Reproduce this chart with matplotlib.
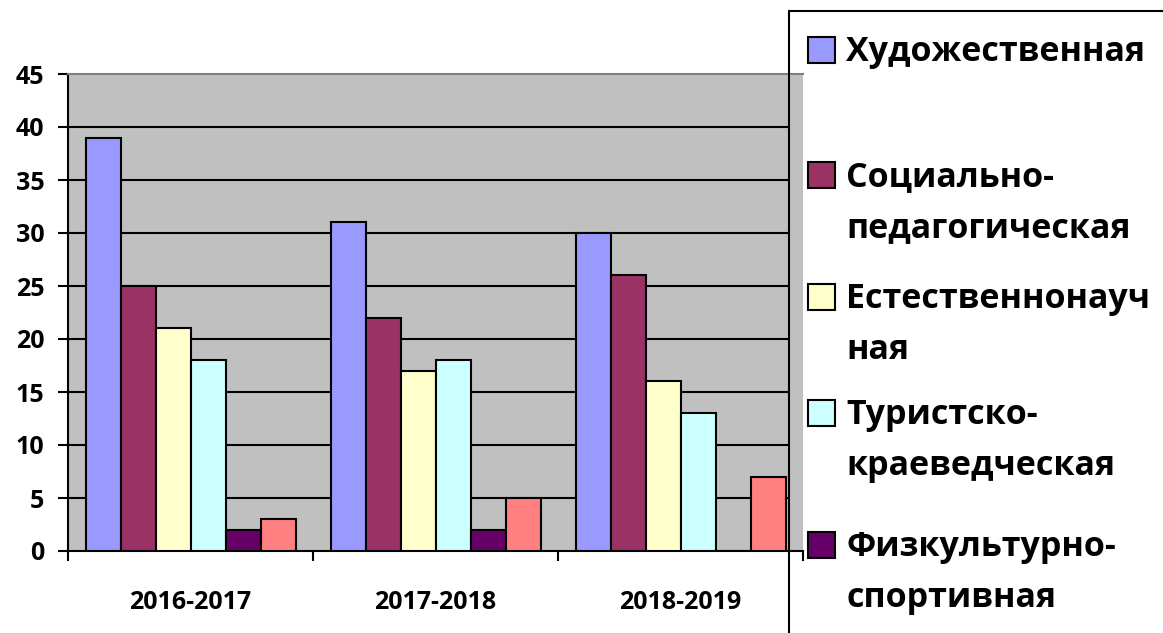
import numpy as np
import matplotlib.pyplot as plt
from matplotlib.patches import Rectangle

plt.rcParams['font.family'] = ['Open Sans', 'DejaVu Sans']
plt.rcParams['font.weight'] = 'bold'

# данные
years = ['2016-2017', '2017-2018', '2018-2019']
names = ['Художественная', 'Социально-\nпедагогическая', 'Естественнонауч\nная',
         'Туристско-\nкраеведческая', 'Физкультурно-\nспортивная', 'Техническая']
hud = [39, 31, 30]
soc = [25, 22, 26]
est = [21, 17, 16]
tur = [18, 18, 13]
fiz = [2, 2, 0]
teh = [3, 5, 7]
series = [hud, soc, est, tur, fiz, teh]
colors = ['#9999FF', '#993366', '#FFFFCC', '#CCFFFF', '#660066', '#FF8080']

W, H = 1163, 633
fig = plt.figure(figsize=(W / 100, H / 100), dpi=100)
ax = fig.add_axes([68 / W, 1 - 551 / H, 735 / W, 477 / H])
ax.set_facecolor('#C0C0C0')

x = np.arange(len(years))
w = 1 / 7
for j, (vals, c) in enumerate(zip(series, colors)):
    ax.bar(x + (j - 2.5) * w, vals, width=w, color=c, edgecolor='black',
           linewidth=1.5, zorder=3)

ax.set_xlim(-0.5, 2.5)
ax.set_ylim(0, 45)

# сетка обрывается у рамки легенды
x_end = (789 - 68) / 735 * 3 - 0.5
ax.hlines(np.arange(5, 45, 5), -0.5, x_end, color='black', lw=1.5, zorder=1)

ax.set_yticks(np.arange(0, 46, 5))
ax.tick_params(axis='y', length=7, width=1.5, pad=10, labelsize=18)
ax.set_xticks([-0.5, 0.5, 1.5, 2.5])
ax.set_xticklabels([])
ax.tick_params(axis='x', which='major', length=7, width=1.5)
ax.set_xticks(x, minor=True)
ax.set_xticklabels(years, minor=True, fontsize=18)
ax.tick_params(axis='x', which='minor', length=0, pad=28)

for s in ['left', 'bottom']:
    ax.spines[s].set_linewidth(1.5)
ax.spines['top'].set_color('#808080')
ax.spines['top'].set_linewidth(1.5)
ax.spines['right'].set_visible(False)

# легенда (шестой пункт в исходнике обрезан краем)
fig.patches.append(Rectangle((789 / W, -0.05), 0.5, 1 - 11 / H + 0.05,
                             transform=fig.transFigure, fill=False,
                             edgecolor='black', lw=1.5, zorder=10))
leg_y = [50, 175, 297, 413, 545]
for yy, name, c in zip(leg_y, names, colors):
    fig.patches.append(Rectangle((808 / W, 1 - (yy + 13) / H), 27 / W, 26 / H,
                                 transform=fig.transFigure, facecolor=c,
                                 edgecolor='black', lw=1.5, zorder=10))
    fig.text(846 / W, 1 - (yy - 15) / H, name, fontsize=24.5, fontweight='bold',
             va='top', ha='left', linespacing=1.66)

fig.savefig('out.png', dpi=100)
